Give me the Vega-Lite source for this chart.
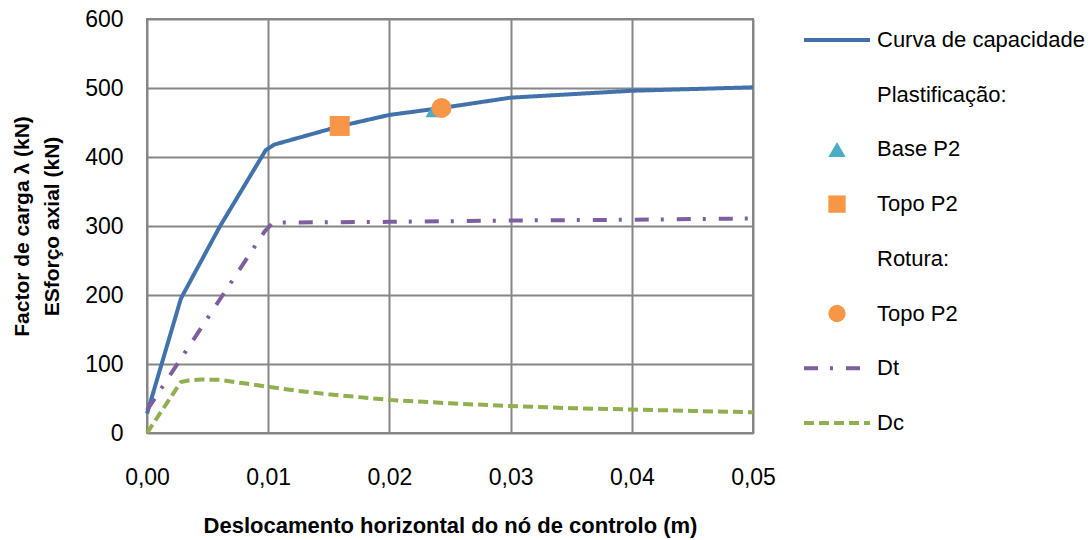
{
  "$schema": "https://vega.github.io/schema/vega-lite/v6.json",
  "width": 606,
  "height": 414,
  "autosize": {"type": "none"},
  "padding": {"left": 147, "top": 19, "right": 338, "bottom": 107},
  "background": "white",
  "config": {
    "font": "Liberation Sans",
    "view": {"stroke": "#868686", "strokeWidth": 2}
  },
  "datasets": {
    "lines": [
      {"series": "Curva de capacidade", "x": 0, "y": 28},
      {"series": "Curva de capacidade", "x": 0.0028, "y": 195},
      {"series": "Curva de capacidade", "x": 0.006, "y": 299},
      {"series": "Curva de capacidade", "x": 0.0098, "y": 410},
      {"series": "Curva de capacidade", "x": 0.0105, "y": 418},
      {"series": "Curva de capacidade", "x": 0.016, "y": 445},
      {"series": "Curva de capacidade", "x": 0.02, "y": 461},
      {"series": "Curva de capacidade", "x": 0.0243, "y": 471},
      {"series": "Curva de capacidade", "x": 0.03, "y": 486},
      {"series": "Curva de capacidade", "x": 0.04, "y": 496},
      {"series": "Curva de capacidade", "x": 0.05, "y": 501},
      {"series": "Dt", "x": 0, "y": 33},
      {"series": "Dt", "x": 0.0097, "y": 292},
      {"series": "Dt", "x": 0.0104, "y": 305},
      {"series": "Dt", "x": 0.02, "y": 306},
      {"series": "Dt", "x": 0.03, "y": 308},
      {"series": "Dt", "x": 0.04, "y": 309},
      {"series": "Dt", "x": 0.05, "y": 311},
      {"series": "Dc", "x": 0, "y": 0},
      {"series": "Dc", "x": 0.0028, "y": 74},
      {"series": "Dc", "x": 0.0035, "y": 76.5},
      {"series": "Dc", "x": 0.0045, "y": 77.5},
      {"series": "Dc", "x": 0.006, "y": 77},
      {"series": "Dc", "x": 0.008, "y": 72},
      {"series": "Dc", "x": 0.01, "y": 67},
      {"series": "Dc", "x": 0.0125, "y": 61},
      {"series": "Dc", "x": 0.015, "y": 56},
      {"series": "Dc", "x": 0.0175, "y": 52},
      {"series": "Dc", "x": 0.02, "y": 48},
      {"series": "Dc", "x": 0.025, "y": 43},
      {"series": "Dc", "x": 0.03, "y": 39},
      {"series": "Dc", "x": 0.035, "y": 36},
      {"series": "Dc", "x": 0.04, "y": 34},
      {"series": "Dc", "x": 0.045, "y": 32},
      {"series": "Dc", "x": 0.05, "y": 30}
    ],
    "markers": [
      {"series": "Topo P2", "x": 0.0159, "y": 445},
      {"series": "Base P2", "x": 0.0238, "y": 470},
      {"series": "Topo P2 ", "x": 0.0243, "y": 471}
    ]
  },
  "encoding": {
    "x": {
      "field": "x",
      "type": "quantitative",
      "scale": {"domain": [0, 0.05], "nice": false, "zero": false},
      "axis": {
        "values": [0, 0.01, 0.02, 0.03, 0.04, 0.05],
        "labelExpr": "replace(format(datum.value, '.2f'), '.', ',')",
        "labelFontSize": 23,
        "labelColor": "#000000",
        "labelPadding": 33,
        "labelFlush": false,
        "ticks": false,
        "domain": false,
        "grid": true,
        "gridColor": "#868686",
        "gridWidth": 2,
        "title": "Deslocamento horizontal do nó de controlo (m)",
        "titleFontSize": 22,
        "titleFontWeight": "bold",
        "titleColor": "#000000",
        "titlePadding": 26
      }
    },
    "y": {
      "field": "y",
      "type": "quantitative",
      "scale": {"domain": [0, 600], "nice": false},
      "axis": {
        "values": [0, 100, 200, 300, 400, 500, 600],
        "labelFontSize": 23,
        "labelColor": "#000000",
        "labelPadding": 24,
        "ticks": false,
        "domain": false,
        "grid": true,
        "gridColor": "#868686",
        "gridWidth": 2,
        "title": ["Factor de carga  λ (kN)", "ESforço axial (kN)"],
        "titleFontSize": 21,
        "titleFontWeight": "bold",
        "titleColor": "#000000",
        "titleLineHeight": 30,
        "titlePadding": 22
      }
    },
    "color": {
      "field": "series",
      "type": "nominal",
      "scale": {
        "domain": ["Curva de capacidade", "Plastificação:", "Base P2", "Topo P2", "Rotura:", "Topo P2 ", "Dt", "Dc"],
        "range": ["#4272AC", "#ffffff", "#4BACC6", "#F79646", "#ffffff", "#F79646", "#7D5FA0", "#8EB04E"]
      },
      "legend": {
        "orient": "none",
        "legendX": 679,
        "legendY": 10,
        "title": null,
        "padding": 0,
        "labelFontSize": 22,
        "labelColor": "#000000",
        "labelOffset": 29,
        "labelLimit": 400,
        "symbolSize": 4356,
        "symbolStrokeWidth": 4,
        "rowPadding": 32.7,
        "encode": {
          "symbols": {
            "update": {
              "shape": {"signal": "datum.value === 'Base P2' ? 'triangle-up' : datum.value === 'Topo P2' ? 'square' : datum.value === 'Topo P2 ' ? 'circle' : 'stroke'"},
              "size": {"signal": "(datum.value === 'Base P2' || datum.value === 'Topo P2' || datum.value === 'Topo P2 ') ? 300 : 4356"},
              "fill": {"signal": "datum.value === 'Base P2' ? '#4BACC6' : (datum.value === 'Topo P2' || datum.value === 'Topo P2 ') ? '#F79646' : 'transparent'"},
              "stroke": {"signal": "datum.value === 'Curva de capacidade' ? '#4272AC' : datum.value === 'Dt' ? '#7D5FA0' : datum.value === 'Dc' ? '#8EB04E' : 'transparent'"},
              "strokeWidth": {"signal": "(datum.value === 'Curva de capacidade' || datum.value === 'Dt' || datum.value === 'Dc') ? 4 : 0"},
              "strokeDash": {"signal": "datum.value === 'Dt' ? [14, 12, 3, 13] : datum.value === 'Dc' ? [10, 5] : [1, 0]"},
              "opacity": {"value": 1}
            }
          }
        }
      }
    }
  },
  "layer": [
    {
      "data": {"name": "lines"},
      "mark": {"type": "line", "strokeWidth": 4},
      "encoding": {
        "strokeDash": {
          "field": "series",
          "type": "nominal",
          "scale": {
            "domain": ["Curva de capacidade", "Dt", "Dc"],
            "range": [[1, 0], [14, 12, 3, 13], [10, 5]]
          },
          "legend": null
        }
      }
    },
    {
      "data": {"name": "markers"},
      "mark": {"type": "point", "filled": true, "opacity": 1, "size": 400},
      "encoding": {
        "shape": {
          "field": "series",
          "type": "nominal",
          "scale": {
            "domain": ["Base P2", "Topo P2", "Topo P2 "],
            "range": ["triangle-up", "square", "circle"]
          },
          "legend": null
        }
      }
    }
  ]
}
